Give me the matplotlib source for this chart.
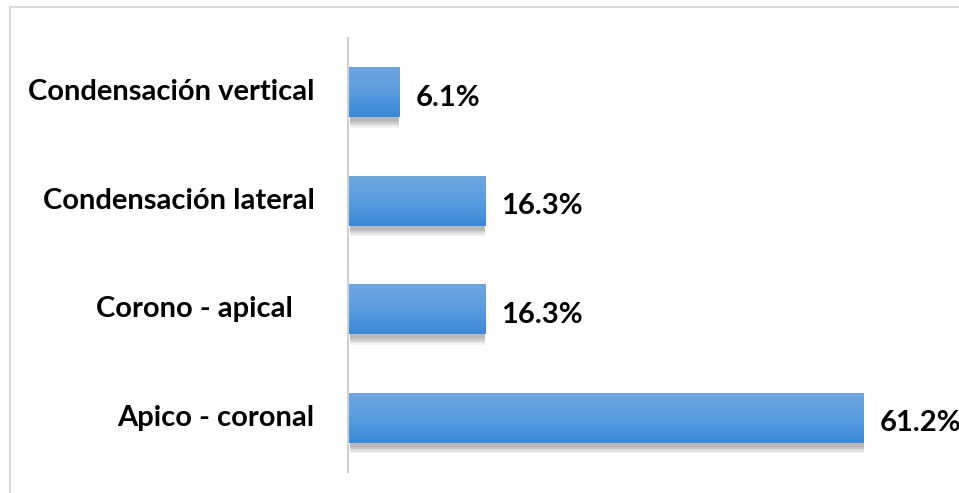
import numpy as np
import matplotlib.pyplot as plt
from matplotlib.lines import Line2D

# Datos
categorias = ["Apico - coronal", "Corono - apical   ", "Condensación lateral", "Condensación vertical"]
valores = [61.2, 16.3, 16.3, 6.1]
etiquetas = ["61.2%", "16.3%", "16.3%", "6.1%"]

plt.rcParams['font.family'] = ['Lato', 'DejaVu Sans']

fig = plt.figure(figsize=(9.59, 4.93), dpi=100)
ax = fig.add_axes([348 / 959, 21 / 493, 1 - 348 / 959, 434 / 493])

alto = 0.46
y = np.arange(len(categorias))

# gradiente vertical de la barra
grad = np.linspace(0, 1, 64).reshape(-1, 1)
cmap = plt.matplotlib.colors.LinearSegmentedColormap.from_list(
    "barra", ["#3b87d6", "#5a9de0", "#6fa6de"])

for yi, v, et in zip(y, valores, etiquetas):
    # sombra
    for k in range(6):
        ax.add_patch(plt.Rectangle((0.2, yi - alto / 2 - 0.035 - k * 0.012), v - 0.2, alto,
                                   color="black", alpha=0.05, lw=0, zorder=1))
    ax.imshow(grad, extent=(0, v, yi - alto / 2, yi + alto / 2), cmap=cmap,
              aspect="auto", zorder=2, origin="lower")
    # la etiqueta de 61.2% queda cortada en el borde, igual que en el original
    ax.text(v + 1.9, yi - 0.05, et, va="center", ha="left",
            fontsize=21, fontweight="bold", color="black")

ax.set_xlim(0, (959 - 348) / 8.43)
ax.set_ylim(-0.5, len(categorias) - 0.5)
ax.set_yticks(y)
ax.set_yticklabels(categorias, fontsize=21, fontweight="bold")
for lbl in ax.get_yticklabels():
    lbl.set_va("center")
ax.tick_params(axis="y", length=0, pad=24)
ax.set_xticks([])
for s in ["top", "right", "bottom"]:
    ax.spines[s].set_visible(False)
ax.spines["left"].set_color("#d0d0d0")
ax.spines["left"].set_linewidth(1.5)

# marco del gráfico
fig.add_artist(Line2D([10 / 959, 1], [1 - 7 / 493, 1 - 7 / 493], color="#d9d9d9", lw=1.5,
                      transform=fig.transFigure))
fig.add_artist(Line2D([10 / 959, 10 / 959], [0, 1 - 7 / 493], color="#d9d9d9", lw=1.5,
                      transform=fig.transFigure))

fig.savefig("out.png", dpi=100)
